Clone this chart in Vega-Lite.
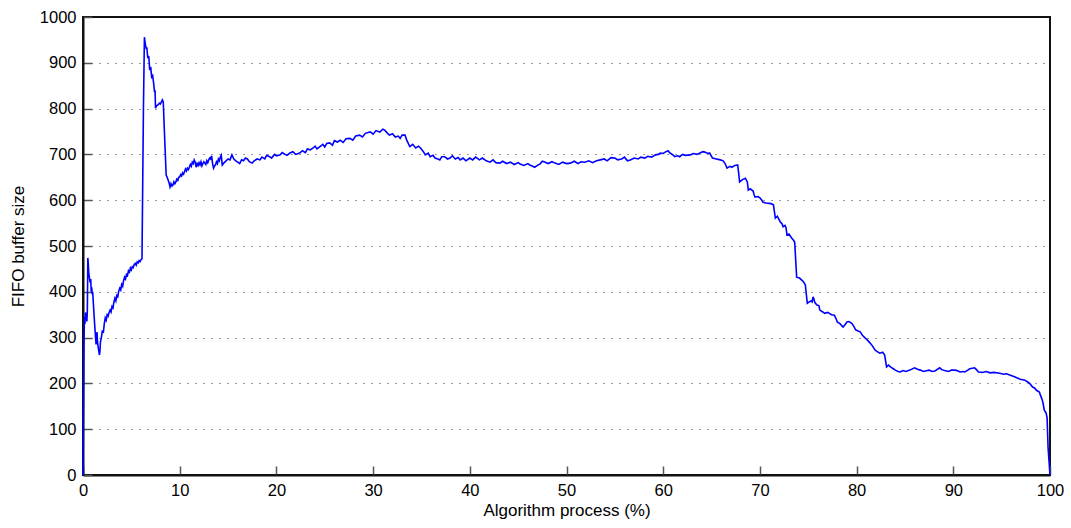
{
  "$schema": "https://vega.github.io/schema/vega-lite/v6.json",
  "width": 967,
  "height": 458,
  "autosize": "none",
  "padding": {"left": 83, "top": 17, "right": 21, "bottom": 53},
  "background": "white",
  "config": {
    "view": {"stroke": "#111111", "strokeWidth": 2},
    "font": "Liberation Sans",
    "axis": {
      "labelFont": "Liberation Sans",
      "titleFont": "Liberation Sans",
      "labelFontSize": 16.5,
      "titleFontSize": 17,
      "titleFontWeight": "normal",
      "labelColor": "#000000",
      "titleColor": "#000000",
      "domainColor": "#111111",
      "domainWidth": 2,
      "tickColor": "#555555",
      "tickWidth": 1.5,
      "labelFlush": false,
      "format": "d"
    }
  },
  "data": {"values": [
{"x":0,"y":0},{"x":0.05,"y":150},{"x":0.1,"y":290},{"x":0.15,"y":345},{"x":0.2,"y":330},{"x":0.25,"y":355},{"x":0.3,"y":340},{"x":0.35,"y":352},{"x":0.4,"y":335},{"x":0.45,"y":360},{"x":0.5,"y":474},{"x":0.55,"y":460},{"x":0.6,"y":440},{"x":0.7,"y":425},{"x":0.75,"y":420},{"x":0.8,"y":428},{"x":0.85,"y":400},{"x":0.9,"y":410},{"x":0.95,"y":395},{"x":1.0,"y":400},{"x":1.1,"y":365},{"x":1.2,"y":330},{"x":1.3,"y":300},{"x":1.35,"y":285},{"x":1.4,"y":300},{"x":1.45,"y":312},{"x":1.5,"y":290},{"x":1.6,"y":275},{"x":1.7,"y":262},{"x":1.75,"y":270},{"x":1.8,"y":290},{"x":1.9,"y":300},{"x":2.0,"y":316},{"x":2.1,"y":310},{"x":2.2,"y":330},{"x":2.3,"y":343},{"x":2.4,"y":338},{"x":2.5,"y":350},{"x":2.6,"y":347},{"x":2.7,"y":355},{"x":2.8,"y":360},{"x":2.9,"y":356},{"x":3.0,"y":368},{"x":3.1,"y":365},{"x":3.2,"y":378},{"x":3.3,"y":386},{"x":3.4,"y":380},{"x":3.5,"y":392},{"x":3.6,"y":390},{"x":3.7,"y":402},{"x":3.8,"y":408},{"x":3.9,"y":404},{"x":4.0,"y":416},{"x":4.1,"y":412},{"x":4.2,"y":425},{"x":4.3,"y":432},{"x":4.4,"y":428},{"x":4.5,"y":438},{"x":4.6,"y":436},{"x":4.7,"y":446},{"x":4.8,"y":443},{"x":4.9,"y":452},{"x":5.0,"y":448},{"x":5.1,"y":455},{"x":5.2,"y":453},{"x":5.3,"y":460},{"x":5.4,"y":462},{"x":5.5,"y":458},{"x":5.6,"y":465},{"x":5.7,"y":463},{"x":5.8,"y":468},{"x":5.9,"y":466},{"x":6.0,"y":470},{"x":6.1,"y":472},{"x":6.25,"y":800},{"x":6.35,"y":956},{"x":6.45,"y":940},{"x":6.55,"y":930},{"x":6.6,"y":934},{"x":6.7,"y":910},{"x":6.8,"y":915},{"x":6.9,"y":884},{"x":7.0,"y":891},{"x":7.1,"y":869},{"x":7.2,"y":872},{"x":7.3,"y":856},{"x":7.4,"y":836},{"x":7.45,"y":840},{"x":7.5,"y":801},{"x":7.6,"y":806},{"x":7.75,"y":808},{"x":7.9,"y":812},{"x":8.0,"y":810},{"x":8.1,"y":814},{"x":8.2,"y":819},{"x":8.3,"y":815},{"x":8.4,"y":760},{"x":8.6,"y":655},{"x":8.7,"y":650},{"x":8.8,"y":644},{"x":8.9,"y":638},{"x":9.0,"y":629},{"x":9.1,"y":636},{"x":9.2,"y":631},{"x":9.3,"y":633},{"x":9.4,"y":640},{"x":9.5,"y":636},{"x":9.6,"y":640},{"x":9.7,"y":646},{"x":9.8,"y":643},{"x":9.9,"y":650},{"x":10.0,"y":651},{"x":10.1,"y":656},{"x":10.2,"y":653},{"x":10.3,"y":660},{"x":10.4,"y":657},{"x":10.5,"y":662},{"x":10.6,"y":668},{"x":10.7,"y":664},{"x":10.8,"y":670},{"x":10.9,"y":667},{"x":11.0,"y":672},{"x":11.1,"y":678},{"x":11.2,"y":674},{"x":11.3,"y":683},{"x":11.4,"y":680},{"x":11.5,"y":688},{"x":11.6,"y":683},{"x":11.7,"y":672},{"x":11.8,"y":680},{"x":11.9,"y":676},{"x":12.0,"y":682},{"x":12.1,"y":677},{"x":12.2,"y":684},{"x":12.3,"y":675},{"x":12.4,"y":680},{"x":12.5,"y":684},{"x":12.6,"y":681},{"x":12.7,"y":678},{"x":12.8,"y":686},{"x":12.9,"y":682},{"x":13.0,"y":688},{"x":13.1,"y":692},{"x":13.2,"y":690},{"x":13.3,"y":697},{"x":13.4,"y":680},{"x":13.5,"y":670},{"x":13.6,"y":675},{"x":13.7,"y":677},{"x":13.8,"y":684},{"x":13.9,"y":680},{"x":14.0,"y":690},{"x":14.1,"y":686},{"x":14.2,"y":694},{"x":14.3,"y":698},{"x":14.4,"y":677},{"x":14.6,"y":682},{"x":14.8,"y":686},{"x":15.0,"y":690},{"x":15.2,"y":688},{"x":15.4,"y":699},{"x":15.6,"y":690},{"x":15.8,"y":686},{"x":16.0,"y":683},{"x":16.2,"y":680},{"x":16.4,"y":688},{"x":16.6,"y":686},{"x":16.8,"y":692},{"x":17.0,"y":690},{"x":17.2,"y":684},{"x":17.5,"y":681},{"x":17.7,"y":686},{"x":18.0,"y":690},{"x":18.3,"y":688},{"x":18.5,"y":694},{"x":18.8,"y":690},{"x":19.0,"y":698},{"x":19.3,"y":695},{"x":19.5,"y":692},{"x":19.8,"y":700},{"x":20.0,"y":697},{"x":20.4,"y":699},{"x":20.6,"y":704},{"x":20.9,"y":700},{"x":21.1,"y":698},{"x":21.4,"y":703},{"x":21.7,"y":706},{"x":22.0,"y":700},{"x":22.4,"y":703},{"x":22.7,"y":708},{"x":23.0,"y":704},{"x":23.2,"y":712},{"x":23.5,"y":710},{"x":23.8,"y":714},{"x":24.0,"y":718},{"x":24.2,"y":712},{"x":24.5,"y":717},{"x":24.8,"y":722},{"x":25.0,"y":716},{"x":25.2,"y":724},{"x":25.5,"y":725},{"x":25.8,"y":720},{"x":26.0,"y":730},{"x":26.3,"y":727},{"x":26.6,"y":731},{"x":26.9,"y":726},{"x":27.2,"y":734},{"x":27.6,"y":735},{"x":27.9,"y":731},{"x":28.2,"y":740},{"x":28.6,"y":742},{"x":28.9,"y":738},{"x":29.2,"y":746},{"x":29.7,"y":749},{"x":30.0,"y":744},{"x":30.3,"y":752},{"x":30.7,"y":749},{"x":31.0,"y":755},{"x":31.2,"y":753},{"x":31.5,"y":746},{"x":31.7,"y":742},{"x":32.0,"y":745},{"x":32.3,"y":738},{"x":32.6,"y":740},{"x":32.8,"y":735},{"x":33.0,"y":742},{"x":33.3,"y":742},{"x":33.5,"y":730},{"x":33.8,"y":717},{"x":34.1,"y":722},{"x":34.4,"y":714},{"x":34.7,"y":718},{"x":34.9,"y":714},{"x":35.2,"y":706},{"x":35.4,"y":699},{"x":35.7,"y":703},{"x":35.9,"y":695},{"x":36.2,"y":698},{"x":36.4,"y":692},{"x":36.7,"y":690},{"x":36.9,"y":688},{"x":37.1,"y":695},{"x":37.4,"y":695},{"x":37.7,"y":690},{"x":37.95,"y":692},{"x":38.2,"y":697},{"x":38.5,"y":690},{"x":38.8,"y":693},{"x":39.0,"y":688},{"x":39.3,"y":692},{"x":39.6,"y":686},{"x":40.0,"y":692},{"x":40.3,"y":688},{"x":40.6,"y":694},{"x":41.0,"y":688},{"x":41.3,"y":692},{"x":41.7,"y":686},{"x":42.1,"y":683},{"x":42.4,"y":688},{"x":42.7,"y":682},{"x":43.1,"y":681},{"x":43.4,"y":685},{"x":43.8,"y":680},{"x":44.2,"y":683},{"x":44.6,"y":678},{"x":45.0,"y":682},{"x":45.2,"y":679},{"x":45.6,"y":676},{"x":46.0,"y":680},{"x":46.2,"y":677},{"x":46.5,"y":674},{"x":46.7,"y":672},{"x":47.0,"y":676},{"x":47.3,"y":680},{"x":47.5,"y":685},{"x":47.8,"y":683},{"x":48.1,"y":680},{"x":48.5,"y":684},{"x":48.8,"y":681},{"x":49.2,"y":678},{"x":49.6,"y":683},{"x":50.0,"y":680},{"x":50.4,"y":681},{"x":50.8,"y":685},{"x":51.2,"y":680},{"x":51.5,"y":684},{"x":51.9,"y":683},{"x":52.3,"y":686},{"x":52.7,"y":682},{"x":53.1,"y":686},{"x":53.5,"y":688},{"x":53.9,"y":690},{"x":54.2,"y":686},{"x":54.6,"y":693},{"x":55.0,"y":692},{"x":55.3,"y":688},{"x":55.7,"y":690},{"x":56.0,"y":694},{"x":56.3,"y":686},{"x":56.6,"y":688},{"x":57.0,"y":692},{"x":57.4,"y":690},{"x":57.7,"y":694},{"x":58.1,"y":692},{"x":58.4,"y":696},{"x":58.8,"y":694},{"x":59.2,"y":699},{"x":59.5,"y":700},{"x":59.7,"y":703},{"x":60.0,"y":702},{"x":60.2,"y":705},{"x":60.5,"y":708},{"x":60.7,"y":703},{"x":61.0,"y":699},{"x":61.2,"y":695},{"x":61.5,"y":697},{"x":61.7,"y":695},{"x":62.0,"y":700},{"x":62.3,"y":698},{"x":62.8,"y":699},{"x":63.1,"y":702},{"x":63.5,"y":700},{"x":63.8,"y":703},{"x":64.1,"y":706},{"x":64.3,"y":705},{"x":64.6,"y":702},{"x":64.8,"y":703},{"x":65.1,"y":692},{"x":65.5,"y":690},{"x":65.9,"y":688},{"x":66.2,"y":686},{"x":66.4,"y":680},{"x":66.6,"y":670},{"x":66.9,"y":674},{"x":67.1,"y":672},{"x":67.4,"y":676},{"x":67.7,"y":677},{"x":67.8,"y":660},{"x":67.9,"y":640},{"x":68.2,"y":645},{"x":68.5,"y":648},{"x":68.7,"y":640},{"x":68.8,"y":622},{"x":69.0,"y":625},{"x":69.3,"y":620},{"x":69.4,"y":612},{"x":69.5,"y":607},{"x":69.8,"y":608},{"x":70.0,"y":605},{"x":70.2,"y":600},{"x":70.3,"y":596},{"x":70.6,"y":594},{"x":71.0,"y":593},{"x":71.2,"y":592},{"x":71.4,"y":590},{"x":71.6,"y":561},{"x":71.8,"y":565},{"x":72.1,"y":553},{"x":72.3,"y":548},{"x":72.4,"y":542},{"x":72.6,"y":545},{"x":72.7,"y":540},{"x":72.8,"y":524},{"x":73.0,"y":526},{"x":73.3,"y":517},{"x":73.5,"y":512},{"x":73.6,"y":508},{"x":73.8,"y":432},{"x":74.1,"y":430},{"x":74.3,"y":426},{"x":74.5,"y":422},{"x":74.7,"y":415},{"x":74.9,"y":375},{"x":75.1,"y":378},{"x":75.3,"y":380},{"x":75.4,"y":378},{"x":75.5,"y":389},{"x":75.7,"y":376},{"x":75.9,"y":371},{"x":76.1,"y":370},{"x":76.2,"y":360},{"x":76.5,"y":356},{"x":76.7,"y":353},{"x":77.0,"y":355},{"x":77.2,"y":353},{"x":77.4,"y":350},{"x":77.7,"y":349},{"x":77.9,"y":340},{"x":78.0,"y":334},{"x":78.3,"y":330},{"x":78.6,"y":323},{"x":78.8,"y":328},{"x":79.0,"y":334},{"x":79.2,"y":335},{"x":79.5,"y":331},{"x":79.7,"y":325},{"x":79.9,"y":317},{"x":80.1,"y":315},{"x":80.4,"y":312},{"x":80.6,"y":305},{"x":80.9,"y":299},{"x":81.1,"y":295},{"x":81.4,"y":288},{"x":81.6,"y":283},{"x":81.9,"y":273},{"x":82.1,"y":270},{"x":82.4,"y":266},{"x":82.7,"y":268},{"x":82.9,"y":262},{"x":83.1,"y":236},{"x":83.3,"y":240},{"x":83.5,"y":236},{"x":83.8,"y":232},{"x":84.0,"y":229},{"x":84.3,"y":226},{"x":84.5,"y":225},{"x":84.8,"y":228},{"x":85.1,"y":226},{"x":85.5,"y":229},{"x":86.0,"y":234},{"x":86.3,"y":231},{"x":86.6,"y":229},{"x":86.9,"y":226},{"x":87.1,"y":227},{"x":87.5,"y":229},{"x":87.8,"y":226},{"x":88.1,"y":227},{"x":88.6,"y":234},{"x":88.8,"y":230},{"x":89.1,"y":228},{"x":89.5,"y":226},{"x":89.8,"y":229},{"x":90.2,"y":229},{"x":90.5,"y":227},{"x":90.7,"y":225},{"x":91.0,"y":226},{"x":91.2,"y":225},{"x":91.5,"y":229},{"x":91.7,"y":232},{"x":92.2,"y":234},{"x":92.4,"y":230},{"x":92.6,"y":225},{"x":93.0,"y":224},{"x":93.4,"y":226},{"x":93.8,"y":223},{"x":94.2,"y":224},{"x":94.8,"y":222},{"x":95.2,"y":220},{"x":95.5,"y":221},{"x":95.9,"y":218},{"x":96.4,"y":214},{"x":96.9,"y":209},{"x":97.2,"y":208},{"x":97.4,"y":207},{"x":97.7,"y":203},{"x":97.9,"y":200},{"x":98.2,"y":192},{"x":98.4,"y":190},{"x":98.6,"y":185},{"x":98.9,"y":181},{"x":99.0,"y":175},{"x":99.2,"y":164},{"x":99.3,"y":155},{"x":99.4,"y":142},{"x":99.6,"y":135},{"x":99.7,"y":125},{"x":99.8,"y":60},{"x":100,"y":0}
  ]},
  "mark": {"type": "line", "color": "#0000ff", "strokeWidth": 1.6},
  "encoding": {
    "x": {"field": "x", "type": "quantitative",
          "scale": {"domain": [0, 100], "nice": false, "zero": false},
          "axis": {"orient": "bottom", "title": "Algorithm process (%)", "values": [0,10,20,30,40,50,60,70,80,90,100], "grid": false, "tickSize": -9, "labelPadding": 16, "titlePadding": 4}},
    "y": {"field": "y", "type": "quantitative",
          "scale": {"domain": [0, 1000], "nice": false, "zero": false},
          "axis": {"orient": "left", "title": "FIFO buffer size", "values": [0,100,200,300,400,500,600,700,800,900,1000], "grid": true, "gridColor": "#000000", "gridDash": [1, 7], "gridOpacity": 0.8, "tickSize": -9, "labelPadding": 16, "titlePadding": 12}}
  }
}
